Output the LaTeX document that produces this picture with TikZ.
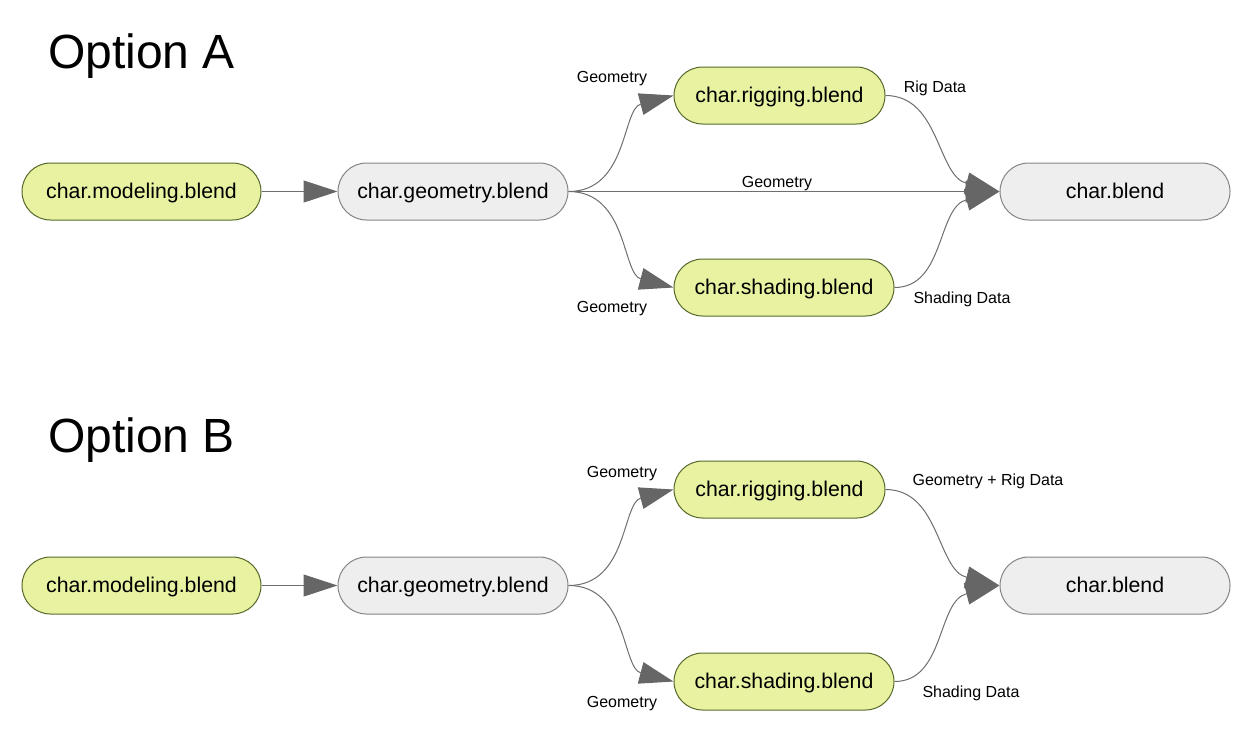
\documentclass[tikz,border=0pt]{standalone}
\usepackage{fontspec}
\setmainfont{Liberation Sans}
\usetikzlibrary{arrows.meta}
\definecolor{gfill}{HTML}{E8F2A1}
\definecolor{gdraw}{HTML}{56692A}
\definecolor{nfill}{HTML}{EEEEEE}
\definecolor{ndraw}{HTML}{858585}
\definecolor{edgec}{HTML}{6E6E6E}
\definecolor{tipc}{HTML}{666666}
\begin{document}
\begin{tikzpicture}[x=1pt,y=-1pt,
  box/.style={rectangle,rounded corners=28.5pt,minimum height=57pt,inner sep=0pt,
    line width=1pt,font=\fontsize{21.3}{25}\selectfont,text height=15.5pt,text depth=1.5pt},
  grn/.style={box,fill=gfill,draw=gdraw},
  gry/.style={box,fill=nfill,draw=ndraw},
  edge/.style={draw=edgec,line width=1pt,-{Triangle[length=34pt,width=22pt,fill=tipc,color=tipc]}},
  lbl/.style={font=\fontsize{16}{19}\selectfont,anchor=base,inner sep=0pt},
  title/.style={font=\fontsize{48}{56}\selectfont,anchor=base west,inner sep=0pt}]
\useasboundingbox (0,0) rectangle (1257,732);
\fill[white] (0,0) rectangle (1257,732);

% ---------- Option A ----------
\node[title] (tA) at (48,68) {Option A};
\node[grn,minimum width=239pt] (modA) at (141.5,191.5) {char.modeling.blend};
\node[gry,minimum width=230pt] (geoA) at (453,191.5) {char.geometry.blend};
\node[grn,minimum width=211pt] (rigA) at (779.5,95.5) {char.rigging.blend};
\node[grn,minimum width=220pt] (shdA) at (784,287.5) {char.shading.blend};
\node[gry,minimum width=230pt] (blnA) at (1115,191.5) {char.blend};

\draw[edge] (modA.east) -- (geoA.west);
\draw[edge] (geoA.east) .. controls (628,191.5) and (622,109) .. (rigA.west);
\draw[edge] (geoA.east) .. controls (628,191.5) and (622,274) .. (shdA.west);
\draw[edge] (geoA.east) -- (blnA.west);
\draw[edge] (rigA.east) .. controls (940,95.5) and (937,176) .. (blnA.west);
\draw[edge] (shdA.east) .. controls (945,287.5) and (937,207) .. (blnA.west);

\node[lbl] (lA1) at (612,82) {Geometry};
\node[lbl] (lA2) at (612,312) {Geometry};
\node[lbl] (lA3) at (777,187) {Geometry};
\node[lbl] (lA4) at (935,92) {Rig Data};
\node[lbl] (lA5) at (962,303) {Shading Data};

% ---------- Option B ----------
\node[title] (tB) at (48,452) {Option B};
\node[grn,minimum width=239pt] (modB) at (141.5,585.5) {char.modeling.blend};
\node[gry,minimum width=230pt] (geoB) at (453,585.5) {char.geometry.blend};
\node[grn,minimum width=211pt] (rigB) at (779.5,489.5) {char.rigging.blend};
\node[grn,minimum width=220pt] (shdB) at (784,681.5) {char.shading.blend};
\node[gry,minimum width=230pt] (blnB) at (1115,585.5) {char.blend};

\draw[edge] (modB.east) -- (geoB.west);
\draw[edge] (geoB.east) .. controls (628,585.5) and (622,503) .. (rigB.west);
\draw[edge] (geoB.east) .. controls (628,585.5) and (622,668) .. (shdB.west);
\draw[edge] (rigB.east) .. controls (940,489.5) and (937,570) .. (blnB.west);
\draw[edge] (shdB.east) .. controls (945,681.5) and (937,601) .. (blnB.west);

\node[lbl] (lB1) at (622,477) {Geometry};
\node[lbl] (lB2) at (622,707) {Geometry};
\node[lbl] (lB3) at (988,485) {Geometry + Rig Data};
\node[lbl] (lB4) at (971,697) {Shading Data};
\end{tikzpicture}
\end{document}
